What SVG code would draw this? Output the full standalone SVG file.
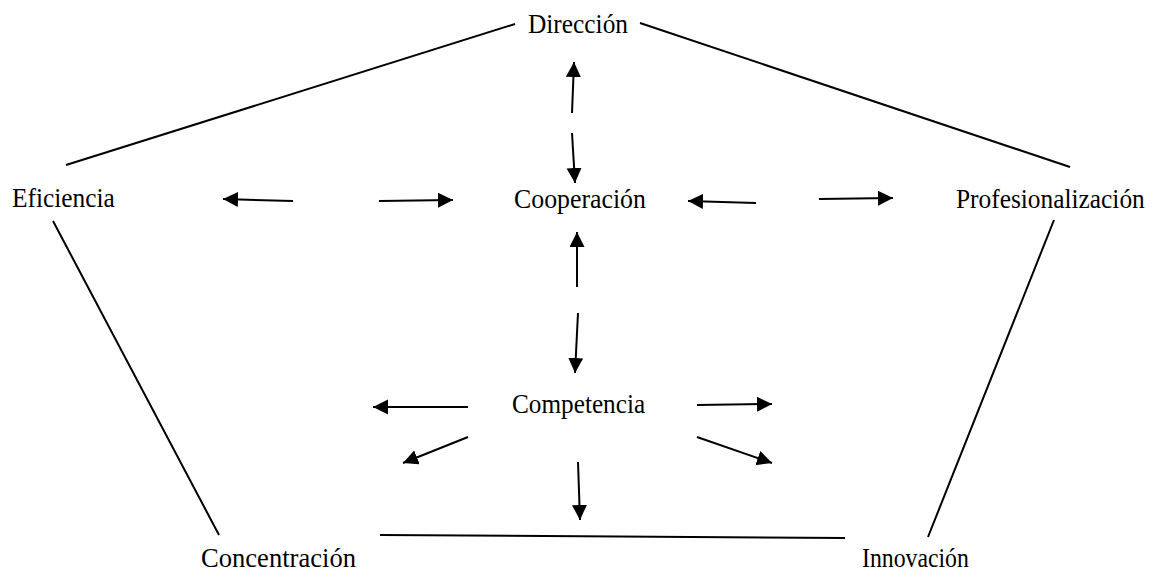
<svg xmlns="http://www.w3.org/2000/svg" width="1159" height="574" viewBox="0 0 1159 574">
  <style>
    .lbl { font-family: "Liberation Serif", "Times New Roman", serif; font-size: 27px; fill: #000; }
    .edge { stroke: #000; stroke-width: 2; fill: none; }
    .arr { stroke: #000; stroke-width: 2; fill: none; marker-end: url(#head); }
  </style>
  <defs>
    <marker id="head" markerUnits="userSpaceOnUse" markerWidth="16" markerHeight="16" refX="15" refY="7.5" orient="auto">
      <path d="M0,0 L15,7.5 L0,15 z" fill="#000"/>
    </marker>
  </defs>
  <rect width="1159" height="574" fill="#fff"/>

  <g id="connectors">
    <!-- outer pentagon -->
    <line class="edge" x1="515" y1="24" x2="66" y2="165"/>
    <line class="edge" x1="640" y1="23" x2="1070" y2="167"/>
    <line class="edge" x1="53" y1="221" x2="219" y2="535"/>
    <line class="edge" x1="1054" y1="220" x2="928" y2="537"/>
    <line class="edge" x1="380" y1="535" x2="845" y2="538"/>

    <!-- Dirección / Cooperación -->
    <line class="arr" x1="572" y1="113" x2="574" y2="62"/>
    <line class="arr" x1="572" y1="133" x2="575" y2="183"/>

    <!-- Eficiencia / Cooperación -->
    <line class="arr" x1="293" y1="201" x2="223" y2="199"/>
    <line class="arr" x1="379" y1="201" x2="453" y2="200"/>

    <!-- Cooperación / Profesionalización -->
    <line class="arr" x1="756" y1="203" x2="688" y2="201"/>
    <line class="arr" x1="819" y1="199" x2="893" y2="198"/>

    <!-- Cooperación / Competencia -->
    <line class="arr" x1="577" y1="287" x2="577" y2="232"/>
    <line class="arr" x1="578" y1="313" x2="575" y2="373"/>

    <!-- Competencia outward -->
    <line class="arr" x1="468" y1="407" x2="373" y2="407"/>
    <line class="arr" x1="468" y1="437" x2="403" y2="463"/>
    <line class="arr" x1="578" y1="462" x2="580" y2="520"/>
    <line class="arr" x1="697" y1="405" x2="772" y2="404"/>
    <line class="arr" x1="697" y1="437" x2="772" y2="463"/>
  </g>

  <!-- labels are narrowed horizontally with a plain x-scale -->
  <g id="direccion"><text class="lbl" transform="translate(528,33) scale(0.94,1)">Dirección</text></g>
  <g id="eficiencia"><text class="lbl" transform="translate(12,207) scale(0.94,1)">Eficiencia</text></g>
  <g id="cooperacion"><text class="lbl" transform="translate(514,208) scale(0.957,1)">Cooperación</text></g>
  <g id="profesionalizacion"><text class="lbl" transform="translate(956,208) scale(0.94,1)">Profesionalización</text></g>
  <g id="competencia"><text class="lbl" transform="translate(512,413) scale(0.935,1)">Competencia</text></g>
  <g id="concentracion"><text class="lbl" transform="translate(201,567) scale(0.985,1)">Concentración</text></g>
  <g id="innovacion"><text class="lbl" transform="translate(862,567) scale(0.88,1)">Innovación</text></g>
</svg>
